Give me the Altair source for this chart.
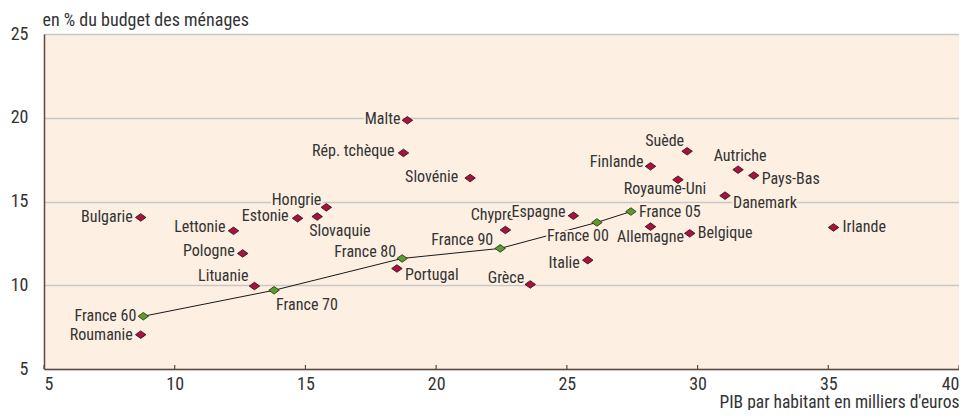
import altair as alt
import pandas as pd

# ---- data ----
countries = ["Bulgarie", "Roumanie", "Lettonie", "Pologne", "Lituanie", "Estonie",
             "Slovaquie", "Hongrie", "Portugal", "Malte", "Rép. tchèque", "Slovénie",
             "Chypre", "Espagne", "Grèce", "Italie", "Allemagne", "Belgique",
             "Finlande", "Suède", "Royaume-Uni", "Autriche", "Pays-Bas", "Danemark",
             "Irlande"]
country_gdp = [8.7, 8.7, 12.25, 12.6, 13.05, 14.7, 15.45, 15.8, 18.5, 18.9, 18.75, 21.3,
               22.65, 25.25, 23.6, 25.8, 28.2, 29.7, 28.2, 29.6, 29.25, 31.55, 32.15, 31.05,
               35.2]
country_budget = [14.05, 7.05, 13.25, 11.9, 9.95, 14.0, 14.1, 14.65, 11.0, 19.85, 17.9, 16.4,
                  13.3, 14.15, 10.05, 11.5, 13.5, 13.1, 17.1, 18.0, 16.3, 16.9, 16.55, 15.35,
                  13.45]

france_labels = ["France 60", "France 70", "France 80", "France 90", "France 00", "France 05"]
france_gdp = [8.8, 13.8, 18.7, 22.45, 26.15, 27.45]
france_budget = [8.15, 9.7, 11.6, 12.2, 13.75, 14.4]

x_ticks = [5, 10, 15, 20, 25, 30, 35, 40]
y_ticks = [5, 10, 15, 20, 25]

# ---- label placement (layout only: align, dx, dy in px) ----
placement = {
    "Bulgarie": ("right", -8, 0), "Roumanie": ("right", -8, 0), "Lettonie": ("right", -8, -4),
    "Pologne": ("right", -8, -2), "Lituanie": ("right", -6, -10), "Estonie": ("right", -9, -2),
    "Slovaquie": ("left", -8, 14), "Hongrie": ("right", -5, -7), "Portugal": ("left", 8, 6),
    "Malte": ("right", -7, -1), "Rép. tchèque": ("right", -9, -2), "Slovénie": ("right", -12, -1),
    "Chypre": ("center", -13, -15), "Espagne": ("right", -8, -4), "Grèce": ("right", -6, -6),
    "Italie": ("right", -8, 3), "Allemagne": ("center", 0, 10), "Belgique": ("left", 8, 0),
    "Finlande": ("right", -7, -4), "Suède": ("right", -3, -10), "Royaume-Uni": ("center", -13, 9),
    "Autriche": ("center", 2, -14), "Pays-Bas": ("left", 8, 3), "Danemark": ("left", 8, 7),
    "Irlande": ("left", 9, 0),
    "France 60": ("right", -7, 0), "France 70": ("left", 2, 15), "France 80": ("right", -6, -6),
    "France 90": ("right", -7, -8), "France 00": ("center", -19, 14), "France 05": ("left", 8, 0),
}

FONT = "Liberation Sans Narrow, Arial Narrow, Roboto Condensed, DejaVu Sans Condensed, sans-serif"
TEXT_COLOR = "#333333"
BG = "#FDEFE2"
RED = "#A8123E"
GREEN = "#5E9B2E"
AXIS = "#5a4a40"
DIAMOND = "M-1,0L0,-0.72L1,0L0,0.72Z"

W, H = 915, 335

countries_df = pd.DataFrame({"name": countries, "gdp": country_gdp, "budget": country_budget})
france_df = pd.DataFrame({"name": france_labels, "gdp": france_gdp, "budget": france_budget,
                          "order": list(range(len(france_labels)))})
labels_df = pd.concat([countries_df, france_df[["name", "gdp", "budget"]]], ignore_index=True)
ticks_df = pd.DataFrame({"gdp": x_ticks})

xscale = alt.Scale(domain=[5, 40], nice=False, zero=False)
yscale = alt.Scale(domain=[5, 25], nice=False, zero=False)

x_enc = alt.X("gdp:Q", scale=xscale, axis=alt.Axis(
    values=x_ticks, title="PIB par habitant en milliers d'euros", grid=False,
    ticks=False, labelFlush=True,
    labelFontSize=18, labelColor=TEXT_COLOR, labelFont=FONT, labelPadding=6,
    titleFont=FONT, titleFontSize=17.5, titleFontWeight="normal", titleColor=TEXT_COLOR,
    titleAnchor="end", titleAlign="right", titleX=W, titleY=38, titleBaseline="alphabetic",
    domainColor=AXIS, domainWidth=1.5))
y_enc = alt.Y("budget:Q", scale=yscale, axis=alt.Axis(
    values=y_ticks, title="en % du budget des ménages", grid=True, gridColor="#C8C8C8",
    gridWidth=1.3, ticks=False, labelFontSize=18, labelColor=TEXT_COLOR, labelFont=FONT,
    labelPadding=16,
    titleFont=FONT, titleFontSize=18, titleFontWeight="normal", titleColor=TEXT_COLOR,
    titleAngle=0, titleAlign="left", titleX=-2, titleY=-9, titleBaseline="alphabetic",
    domainColor=AXIS, domainWidth=1.5))

base = alt.Chart(labels_df)

line = alt.Chart(france_df).mark_line(color="#1a1a1a", strokeWidth=1).encode(
    x=x_enc, y=y_enc, order="order:Q")

# inward x ticks
ticks = alt.Chart(ticks_df).mark_rule(color=AXIS, strokeWidth=1.2).encode(
    x="gdp:Q", y=alt.value(H), y2=alt.value(H - 4))

layers = [line, ticks]

# labels with a halo in the background colour
for name, (align, dx, dy) in placement.items():
    sel = base.transform_filter(alt.datum.name == name)
    layers.append(sel.mark_text(align=align, baseline="middle", dx=dx, dy=dy, font=FONT,
                                fontSize=16, stroke=BG, strokeWidth=4, color=BG,
                                strokeJoin="round").encode(x="gdp:Q", y="budget:Q", text="name:N"))
    layers.append(sel.mark_text(align=align, baseline="middle", dx=dx, dy=dy, font=FONT,
                                fontSize=16, color=TEXT_COLOR).encode(
        x="gdp:Q", y="budget:Q", text="name:N"))

pts_c = alt.Chart(countries_df).mark_point(shape=DIAMOND, size=110, filled=True, fill=RED,
                                           stroke="#2a0a10", strokeWidth=0.8, opacity=1).encode(
    x="gdp:Q", y="budget:Q")
pts_f = alt.Chart(france_df).mark_point(shape=DIAMOND, size=110, filled=True, fill=GREEN,
                                        stroke="#1a2a0a", strokeWidth=0.8, opacity=1).encode(
    x="gdp:Q", y="budget:Q")
layers += [pts_c, pts_f]

chart = alt.layer(*layers).properties(
    width=W, height=H,
    autosize=alt.AutoSizeParams(type="none"),
    padding={"left": 36, "top": 26, "right": 0, "bottom": 41},
    background="white",
).configure_view(fill=BG, stroke=None)

chart.save("out.html", embed_options={"renderer": "svg", "actions": False})
